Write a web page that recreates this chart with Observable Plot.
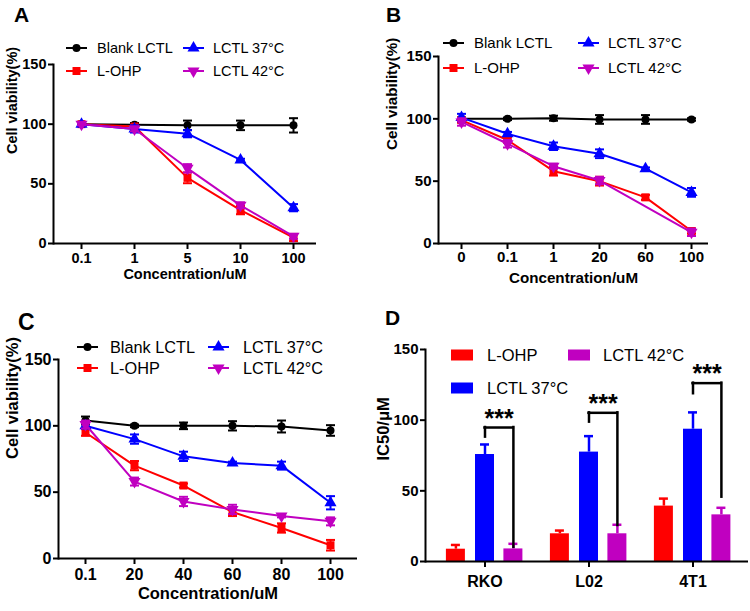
<!DOCTYPE html>
<html><head><meta charset="utf-8">
<script src="https://cdn.jsdelivr.net/npm/d3@7"></script>
<script src="https://cdn.jsdelivr.net/npm/@observablehq/plot@0.6"></script>
<style>
body{margin:0;background:#fff;}
#wrap{position:relative;width:750px;height:611px;background:#fff;overflow:hidden;font-family:"Liberation Sans",Arial,sans-serif;}
.panel{position:absolute;}
</style></head><body><div id="wrap"></div>
<script>
// ---------- shared series ----------
const seriesNames = ["Blank LCTL", "L-OHP", "LCTL 37°C", "LCTL 42°C"];
const seriesColors = ["#000000", "#FF0000", "#0000FF", "#C000C0"];
const seriesSymbols = ["circle", "square", "triangle", "triangle"];
const seriesRotate = [0, 0, 0, 180];
const yTicks = [0, 50, 100, 150];

// ---------- Panel A ----------
const concA = ["0.1", "1", "5", "10", "100"];
const blankA = [100, 99.5, 99, 99, 99];
const blankAErr = [1, 1.5, 4, 4, 6];
const lohpA = [100, 98, 55, 28, 5];
const lohpAErr = [1, 1.5, 4.5, 3.5, 3];
const l37A = [100, 96, 92, 70, 30];
const l37AErr = [1, 3, 3, 1, 3];
const l42A = [100, 96, 63, 32, 6];
const l42AErr = [1, 2, 3.5, 2.5, 2];

// ---------- Panel B ----------
const concB = ["0", "0.1", "1", "20", "60", "100"];
const blankB = [100, 100, 100.5, 99.5, 99.5, 99.5];
const blankBErr = [1, 1, 2, 3.5, 3.5, 1];
const lohpB = [99, 83, 58, 50, 37, 10];
const lohpBErr = [2, 2, 3.5, 3.5, 2, 2];
const l37B = [101, 88, 78, 72, 60, 41];
const l37BErr = [3, 1.5, 3, 3.5, 1, 3.5];
const l42B = [97.5, 80, 62, 50.5, null, 9];
const l42BErr = [3, 3, 2, 3, 0, 3];

// ---------- Panel C ----------
const concC = ["0.1", "20", "40", "60", "80", "100"];
const blankC = [104, 100, 100, 100, 99.5, 96.5];
const blankCErr = [3, 1, 2.5, 3.5, 4.5, 4];
const lohpC = [95, 70, 55, 35, 23, 10];
const lohpCErr = [2.5, 3.5, 1.5, 3, 3.5, 4];
const l37C = [100, 90, 77, 72, 70, 42];
const l37CErr = [2, 3.5, 3.5, 1, 3, 5];
const l42C = [101, 58, 43, 37, 32, 28];
const l42CErr = [3, 3, 3.5, 3.5, 1, 3];

// ---------- Panel D ----------
const cells = ["RKO", "L02", "4T1"];
const barSeries = ["L-OHP", "LCTL 37°C", "LCTL 42°C"];
const barColors = ["#FF0000", "#0000FF", "#C000C0"];
const icLohp = [8.7, 19.6, 39.2];
const icLohpErr = [3, 2.3, 5.3];
const ic37 = [75.7, 77.4, 93.6];
const ic37Err = [7.1, 11.3, 11.9];
const ic42 = [8.9, 19.6, 33];
const ic42Err = [3.6, 6.4, 5];
const bracketTop = [94.8, 105.2, 126.2];
const bracketLeftEnd = [88, 98.6, 118.7];
const bracketRightEnd = [10, 25.5, 45.5];
const starLevel = [100.5, 111.5, 132.5];
const starText = ["***", "***", "***"];

const FONT = "Liberation Sans, Arial, sans-serif";
const wrap = document.getElementById("wrap");

// horizontal-bar symbol used for error-bar caps
const capSymbol = {
  draw(context, size) {
    const r = Math.sqrt(size / Math.PI);
    context.moveTo(-r, 0);
    context.lineTo(r, 0);
  }
};

function place(node, left, top) {
  const div = document.createElement("div");
  div.className = "panel";
  div.style.left = left + "px";
  div.style.top = top + "px";
  div.appendChild(node);
  wrap.appendChild(div);
  return node;
}

function letter(svg, txt, x, y, fs) {
  d3.select(svg).append("text").attr("x", x).attr("y", y)
    .attr("font-size", fs).attr("font-weight", "bold").attr("font-family", FONT)
    .attr("text-anchor", "start").attr("fill", "black").text(txt);
}

function lineLegend(svg, items, fs) {
  const g = d3.select(svg).append("g").attr("font-family", FONT).attr("font-size", fs).attr("text-anchor", "start");
  items.forEach(({k, x, y, tx}) => {
    g.append("line").attr("x1", x).attr("x2", x + 21).attr("y1", y).attr("y2", y)
      .attr("stroke", seriesColors[k]).attr("stroke-width", 2);
    const r = k === 0 ? 4 : 4.5;
    g.append("path").attr("d", d3.symbol(k === 0 ? d3.symbolCircle : k === 1 ? d3.symbolSquare : d3.symbolTriangle, r * r * Math.PI)())
      .attr("transform", `translate(${x + 10.5},${y}) rotate(${seriesRotate[k]})`)
      .attr("fill", seriesColors[k]);
    g.append("text").attr("x", tx).attr("y", y).attr("dy", "0.36em").attr("fill", "black").text(seriesNames[k]);
  });
}

function linePanel(cfg) {
  const {conc, vals, errs, W, H, mL, mR, mT, mB, pad, align, tickFs, titleFs, xLabDy, yLabDx, xTickPad} = cfg;
  const data = [];
  seriesNames.forEach((s, k) => conc.forEach((c, i) => {
    const v = vals[k][i];
    if (v != null) data.push({c, k, v, e: errs[k][i]});
  }));
  const marks = [
    Plot.ruleY([0], {stroke: "black", strokeWidth: 2}),
    Plot.frame({anchor: "left", stroke: "black", strokeWidth: 2}),
    Plot.axisY({ticks: yTicks, tickSize: 5, tickPadding: 2, fontSize: tickFs, fontWeight: "bold", strokeWidth: 2, label: null}),
    Plot.axisX({tickSize: 6, tickPadding: xTickPad, fontSize: tickFs, fontWeight: "bold", strokeWidth: 2, label: null}),
    Plot.text(["Concentration/uM"], {frameAnchor: "bottom", dy: xLabDy, fontSize: titleFs, fontWeight: "bold"}),
    Plot.text(["Cell viability(%)"], {frameAnchor: "left", rotate: -90, dx: yLabDx, fontSize: titleFs, fontWeight: "bold"})
  ];
  seriesNames.forEach((s, k) => {
    const d = data.filter(r => r.k === k);
    const col = seriesColors[k];
    marks.push(
      Plot.ruleX(d, {x: "c", y1: r => r.v - r.e, y2: r => r.v + r.e, stroke: col, strokeWidth: 2}),
      Plot.dot(d, {x: "c", y: r => r.v + r.e, symbol: capSymbol, r: 4.5, fill: "none", stroke: col, strokeWidth: 2}),
      Plot.dot(d, {x: "c", y: r => r.v - r.e, symbol: capSymbol, r: 4.5, fill: "none", stroke: col, strokeWidth: 2}),
      Plot.line(d, {x: "c", y: "v", stroke: col, strokeWidth: 2}),
      Plot.dot(d, {x: "c", y: "v", symbol: seriesSymbols[k], fill: col, stroke: "none", r: k === 0 ? 4 : 4.5, rotate: seriesRotate[k]})
    );
  });
  return Plot.plot({
    width: W, height: H,
    marginLeft: mL, marginRight: mR, marginTop: mT, marginBottom: mB,
    style: {fontFamily: FONT, color: "black", background: "transparent", overflow: "visible"},
    x: {type: "point", domain: conc, padding: pad, align: align},
    y: {domain: [0, 150]},
    marks
  });
}

// Panel A
const svgA = place(linePanel({
  conc: concA, vals: [blankA, lohpA, l37A, l42A], errs: [blankAErr, lohpAErr, l37AErr, l42AErr],
  W: 375, H: 300, mL: 53, mR: 59, mT: 64, mB: 57, pad: 0.45, align: 0.54,
  tickFs: 14.5, titleFs: 14.5, xLabDy: 35, yLabDx: -41, xTickPad: 3
}), 0, 0);
letter(svgA, "A", 14, 22, 21);
lineLegend(svgA, [
  {k: 0, x: 66, y: 48, tx: 97}, {k: 1, x: 66, y: 71, tx: 97},
  {k: 2, x: 183, y: 48, tx: 213}, {k: 3, x: 183, y: 71, tx: 213}
], 14.5);

// Panel B
const svgB = place(linePanel({
  conc: concB, vals: [blankB, lohpB, l37B, l42B], errs: [blankBErr, lohpBErr, l37BErr, l42BErr],
  W: 375, H: 300, mL: 63, mR: 42, mT: 56, mB: 57, pad: 0.385, align: 0.58,
  tickFs: 15, titleFs: 15.2, xLabDy: 39, yLabDx: -46, xTickPad: 2
}), 375, 0);
letter(svgB, "B", 11, 22, 21);
lineLegend(svgB, [
  {k: 0, x: 68, y: 43, tx: 99}, {k: 1, x: 68, y: 68, tx: 99},
  {k: 2, x: 203, y: 43, tx: 233}, {k: 3, x: 203, y: 68, tx: 233}
], 15);

// Panel C
const svgC = place(linePanel({
  conc: concC, vals: [blankC, lohpC, l37C, l42C], errs: [blankCErr, lohpCErr, l37CErr, l42CErr],
  W: 375, H: 311, mL: 58, mR: 18, mT: 59, mB: 53, pad: 0.5, align: 0.5,
  tickFs: 16, titleFs: 16.5, xLabDy: 40, yLabDx: -46, xTickPad: 4
}), 0, 300);
letter(svgC, "C", 18, 30, 23);
lineLegend(svgC, [
  {k: 0, x: 77, y: 47, tx: 110}, {k: 1, x: 77, y: 68, tx: 110},
  {k: 2, x: 208, y: 47, tx: 243}, {k: 3, x: 208, y: 68, tx: 243}
], 16.3);

// Panel D
(function () {
  const vals = [icLohp, ic37, ic42];
  const errs = [icLohpErr, ic37Err, ic42Err];
  const offs = [-29.1, 0, 28.4];
  const marks = [];
  barSeries.forEach((s, k) => {
    const d = cells.map((c, i) => ({c, v: vals[k][i], e: errs[k][i]}));
    marks.push(
      Plot.ruleX(d, {x: "c", y1: "v", y2: r => r.v + r.e, stroke: barColors[k], strokeWidth: 2.5, dx: offs[k]}),
      Plot.tickY(d, {x: "c", y: r => r.v + r.e, stroke: barColors[k], strokeWidth: 2.5, dx: offs[k], insetLeft: 5, insetRight: 5}),
      Plot.barY(d, {x: "c", y: "v", fill: barColors[k], dx: offs[k]})
    );
  });
  const br = cells.map((c, i) => ({c, top: bracketTop[i], l: bracketLeftEnd[i], r: bracketRightEnd[i], s: starLevel[i], t: starText[i]}));
  marks.push(
    Plot.ruleX(br, {x: "c", y1: "l", y2: "top", stroke: "black", strokeWidth: 2.5, strokeLinecap: "square", dx: offs[1]}),
    Plot.ruleX(br, {x: "c", y1: "r", y2: "top", stroke: "black", strokeWidth: 2.5, strokeLinecap: "square", dx: offs[2]}),
    Plot.tickY(br, {x: "c", y: "top", stroke: "black", strokeWidth: 2.5, strokeLinecap: "square", insetLeft: 9.5, insetRight: 9.5 - offs[2]}),
    Plot.text(br, {x: "c", y: "s", text: "t", dx: offs[2] / 2, fontSize: 25, fontWeight: "bold", letterSpacing: 3}),
    Plot.ruleY([0], {stroke: "black", strokeWidth: 2}),
    Plot.frame({anchor: "left", stroke: "black", strokeWidth: 2}),
    Plot.axisY({ticks: yTicks, tickSize: 5, tickPadding: 2, fontSize: 15, fontWeight: "bold", strokeWidth: 2, label: null}),
    Plot.axisX({tickSize: 6, tickPadding: 8, fontSize: 16, fontWeight: "bold", strokeWidth: 2, label: null}),
    Plot.text(["IC50/μM"], {frameAnchor: "left", rotate: -90, dx: -42, dy: 5, fontSize: 16.5, fontWeight: "bold"})
  );
  const svgD = place(Plot.plot({
    width: 375, height: 311,
    marginLeft: 50, marginRight: 2, marginTop: 49, marginBottom: 50,
    style: {fontFamily: FONT, color: "black", background: "transparent", overflow: "visible"},
    x: {type: "band", domain: cells, paddingInner: 0.819, paddingOuter: 0.4476, align: 0.52},
    y: {domain: [0, 150]},
    marks
  }), 375, 300);
  letter(svgD, "D", 10, 25, 21);
  const g = d3.select(svgD).append("g").attr("font-family", FONT).attr("font-size", 16.5).attr("text-anchor", "start");
  const items = [{k: 0, x: 76, y: 55, tx: 112}, {k: 1, x: 76, y: 88, tx: 112}, {k: 2, x: 193, y: 55, tx: 228}];
  items.forEach(({k, x, y, tx}) => {
    g.append("rect").attr("x", x).attr("y", y - 5.5).attr("width", 22).attr("height", 11).attr("fill", barColors[k]);
    g.append("text").attr("x", tx).attr("y", y).attr("dy", "0.36em").attr("fill", "black").text(barSeries[k]);
  });
})();
</script></body></html>
